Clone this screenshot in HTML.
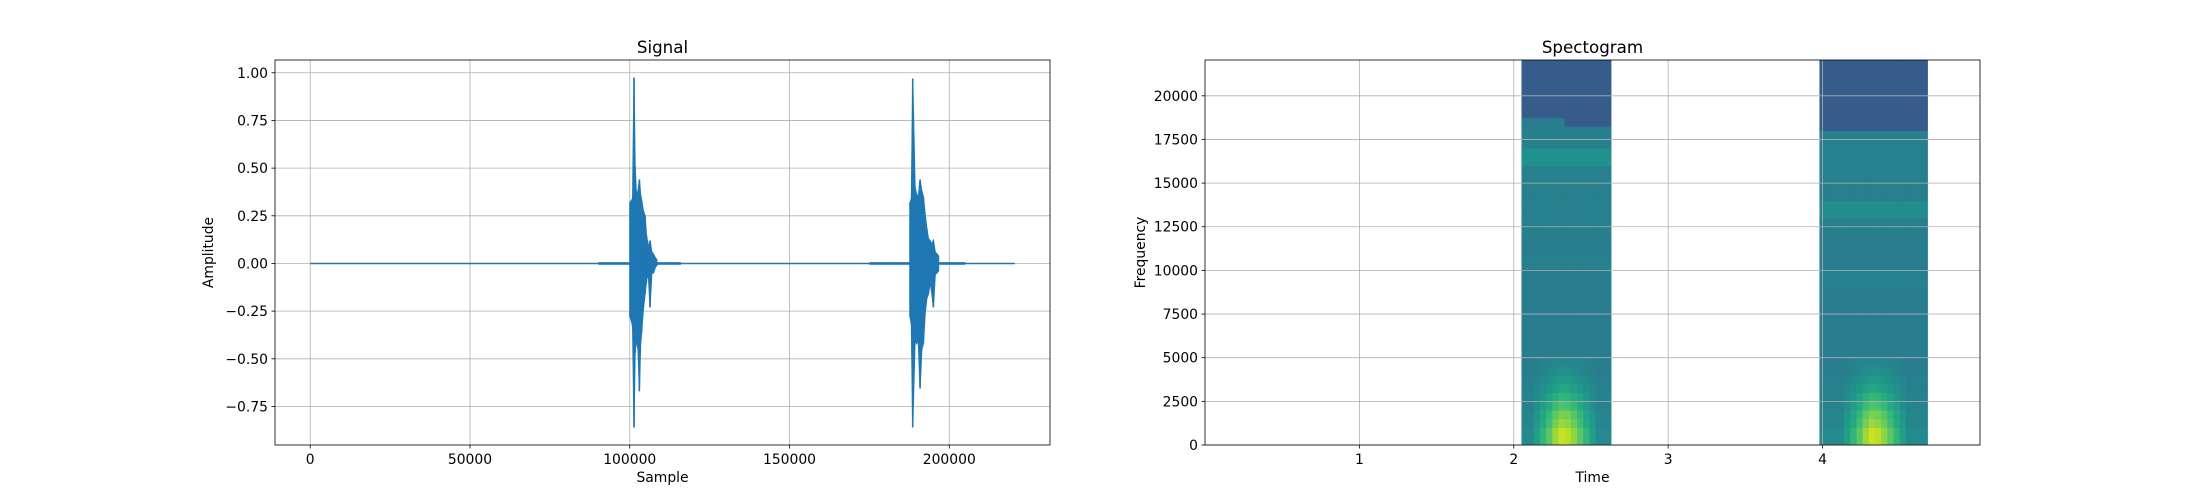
<!DOCTYPE html>
<html><head><meta charset="utf-8"><style>
html,body{margin:0;padding:0;background:#fff}
svg{display:block;font-family:"DejaVu Sans","Liberation Sans",sans-serif}
</style></head><body>
<svg id="fig" width="2200" height="500" xmlns="http://www.w3.org/2000/svg">
<defs><clipPath id="specClip"><rect x="1205" y="60" width="775" height="385"/></clipPath></defs>
<g id="sigAx"></g>
<g id="specAx"></g>
</svg>
<script>
// ---------- Signal data ----------
const sigXTicks = [0, 50000, 100000, 150000, 200000];
const sigYTicks = [1.0, 0.75, 0.5, 0.25, 0.0, -0.25, -0.5, -0.75];
const sigYTickLabels = ["1.00","0.75","0.50","0.25","0.00","\u22120.25","\u22120.50","\u22120.75"];
const sigTotalSamples = 220500;
const noiseSegStart = [90200, 175000];
const noiseSegEnd = [116000, 205000];
const noiseSegAmp = [0.007, 0.007];
const burst1Samples = [100090, 100500, 100900, 101340, 101660, 102100, 102600, 103010, 103400, 103740, 104200, 104790, 105200, 105520, 105900, 106350, 106900, 107390, 108000, 108440];
const burst1Max = [0.32, 0.33, 0.34, 0.975, 0.51, 0.36, 0.38, 0.44, 0.36, 0.33, 0.28, 0.25, 0.15, 0.12, 0.08, 0.12, 0.06, 0.05, 0.03, 0.02];
const burst1Min = [-0.28, -0.30, -0.33, -0.86, -0.47, -0.40, -0.45, -0.67, -0.42, -0.36, -0.25, -0.16, -0.10, -0.05, -0.08, -0.23, -0.05, -0.05, -0.02, -0.01];
const burst2Samples = [187730, 188150, 188560, 189290, 189800, 190300, 190860, 191400, 191900, 192500, 193000, 193470, 194000, 194500, 195030, 195600, 196100, 196600];
const burst2Max = [0.32, 0.34, 0.97, 0.40, 0.36, 0.35, 0.44, 0.38, 0.35, 0.25, 0.18, 0.13, 0.12, 0.10, 0.12, 0.06, 0.05, 0.04];
const burst2Min = [-0.28, -0.32, -0.86, -0.40, -0.42, -0.40, -0.655, -0.45, -0.42, -0.25, -0.18, -0.16, -0.10, -0.15, -0.23, -0.06, -0.05, -0.04];

// ---------- Spectrogram data ----------
const specXTicks = [1, 2, 3, 4];
const specYTicks = [0, 2500, 5000, 7500, 10000, 12500, 15000, 17500, 20000];
const burstStart = [2.05, 3.98];
const burstEnd = [2.63, 4.68];
const burst1Base = [0.47,0.45,0.44,0.43,0.42,0.42,0.42,0.42,0.42,0.42,0.43,0.42,0.43,0.43,0.43,0.43,0.50,0.43,0.42,0.30,0.29,0.29,0.29];
const burst2Base = [0.47,0.45,0.44,0.43,0.42,0.42,0.42,0.42,0.42,0.43,0.42,0.42,0.43,0.48,0.43,0.43,0.43,0.43,0.30,0.29,0.29,0.29,0.29];
const cutLeft = [18800, 17930];
const cutRight = [18150, 17930];
const lowBoost = [0.45, 0.45, 0.40, 0.35, 0.28, 0.22, 0.16, 0.11, 0.07, 0.04];
const hotCenter = [2.33, 4.33];
const hotWeights = [0.2, 0.4, 0.6, 0.85, 1.0, 0.95, 0.8, 0.6, 0.4, 0.2];

const NS = "http://www.w3.org/2000/svg";
function mk(tag, attrs, parent, text){
  const e = document.createElementNS(NS, tag);
  for (const k in attrs) e.setAttribute(k, attrs[k]);
  if (text !== undefined) e.textContent = text;
  parent.appendChild(e);
  return e;
}
const FS = 13.9;

// ---------- Signal axes ----------
const L = {x0:275, x1:1050, y0:60, y1:445};
const sxMin = -sigTotalSamples*0.05, sxMax = sigTotalSamples*1.05;
const syMin = -0.952, syMax = 1.067;
const sx = v => L.x0 + (v - sxMin)/(sxMax - sxMin)*(L.x1 - L.x0);
const sy = v => L.y1 - (v - syMin)/(syMax - syMin)*(L.y1 - L.y0);
const sg = document.getElementById('sigAx');

sigXTicks.forEach((t,i)=>{
  const l = mk('line',{x1:sx(t),x2:sx(t),y1:L.y0,y2:L.y1,stroke:'#b0b0b0','stroke-width':0.8},sg);
  
  
  const tk = mk('line',{x1:sx(t),x2:sx(t),y1:L.y1,y2:L.y1+3.5,stroke:'#000','stroke-width':0.8},sg);
  
  
  const tx = mk('text',{x:sx(t),y:L.y1+19,'font-size':FS,'text-anchor':'middle'},sg,String(t));
  
  
});
sigYTicks.forEach((t,i)=>{
  const l = mk('line',{x1:L.x0,x2:L.x1,y1:sy(t),y2:sy(t),stroke:'#b0b0b0','stroke-width':0.8},sg);
  
  
  const tk = mk('line',{x1:L.x0-3.5,x2:L.x0,y1:sy(t),y2:sy(t),stroke:'#000','stroke-width':0.8},sg);
  
  
  const tx = mk('text',{x:L.x0-7,y:sy(t)+5,'font-size':FS,'text-anchor':'end'},sg,sigYTickLabels[i]);
  
  
});
const blue = '#1f77b4';
const base = mk('line',{x1:sx(0),x2:sx(sigTotalSamples),y1:sy(0),y2:sy(0),stroke:blue,'stroke-width':1.5},sg);


noiseSegStart.forEach((s,i)=>{
  const r = mk('rect',{x:sx(s),y:sy(noiseSegAmp[i]),width:sx(noiseSegEnd[i])-sx(s),height:sy(-noiseSegAmp[i])-sy(noiseSegAmp[i]),fill:blue},sg);
  
  
});
function drawBurst(samps, mx, mn, name){
  let pts = samps.map((s,i)=>sx(s)+','+sy(mx[i]));
  for (let i=samps.length-1;i>=0;i--) pts.push(sx(samps[i])+','+sy(mn[i]));
  const p = mk('polygon',{points:pts.join(' '),fill:blue,stroke:blue,'stroke-width':1.2},sg);
  
  
  samps.forEach((s,i)=>{
    const l = mk('line',{x1:sx(s),x2:sx(s),y1:sy(mx[i]),y2:sy(mn[i]),stroke:blue,'stroke-width':1.6},sg);
    
    
  });
}
drawBurst(burst1Samples, burst1Max, burst1Min, 'burst-1');
drawBurst(burst2Samples, burst2Max, burst2Min, 'burst-2');
const sf = mk('rect',{x:L.x0,y:L.y0,width:L.x1-L.x0,height:L.y1-L.y0,fill:'none',stroke:'#000','stroke-width':0.8},sg);


const st = mk('text',{x:(L.x0+L.x1)/2,y:L.y0-7,'font-size':16.7,'text-anchor':'middle'},sg,'Signal');


const sxl = mk('text',{x:(L.x0+L.x1)/2,y:L.y1+37,'font-size':FS,'text-anchor':'middle'},sg,'Sample');


const syl = mk('text',{x:0,y:0,'font-size':FS,'text-anchor':'middle',transform:`translate(213,${(L.y0+L.y1)/2}) rotate(-90)`},sg,'Amplitude');



// ---------- Spectrogram axes ----------
const R = {x0:1205, x1:1980, y0:60, y1:445};
const txMax = 5.02, fMax = 22050;
const tx = v => R.x0 + v/txMax*(R.x1-R.x0);
const fy = v => R.y1 - v/fMax*(R.y1-R.y0);
const pg = document.getElementById('specAx');
const stops = [[0,'#440154'],[0.1,'#482475'],[0.2,'#414487'],[0.3,'#355f8d'],[0.4,'#2a788e'],[0.5,'#21918c'],[0.6,'#22a884'],[0.7,'#44bf70'],[0.8,'#7ad151'],[0.9,'#bddf26'],[1,'#fde725']];
function hex(h){return [1,3,5].map(i=>parseInt(h.substr(i,2),16));}
function viridis(v){
  v=Math.max(0,Math.min(1,v));
  for(let i=1;i<stops.length;i++){ if(v<=stops[i][0]){
    const a=stops[i-1],b=stops[i],f=(v-a[0])/(b[0]-a[0]);
    const ca=hex(a[1]),cb=hex(b[1]);
    return 'rgb('+ca.map((c,k)=>Math.round(c+(cb[k]-c)*f)).join(',')+')';
  }}
  return stops[stops.length-1][1];
}
const cellT = 0.02, cellF = 250;
const hotHalf = 0.2;
const specCells = mk('g',{'clip-path':'url(#specClip)'},pg);


[burst1Base, burst2Base].forEach((baseArr, b)=>{
  const g = mk('g',{},specCells);
  
  
  for (let t=burstStart[b]; t<burstEnd[b]-1e-9; t+=cellT){
    const tc = t+cellT/2;
    const cut = tc < hotCenter[b] ? cutLeft[b] : cutRight[b];
    let hw = 0;
    const rel = (tc-(hotCenter[b]-hotHalf))/(2*hotHalf);
    if (rel>=0 && rel<1) hw = hotWeights[Math.floor(rel*hotWeights.length)];
    for (let f=0; f<fMax; f+=cellF){
      const fc = f+cellF/2;
      let v = fc > cut ? 0.29 : baseArr[Math.min(baseArr.length-1, Math.floor(fc/1000))];
      const lb = Math.floor(fc/500);
      if (lb < lowBoost.length) v += lowBoost[lb]*hw;
      const c = mk('rect',{x:tx(t),y:fy(f+cellF),width:tx(t+cellT)-tx(t)+0.4,height:fy(f)-fy(f+cellF)+0.4,fill:viridis(v)},g);
      
      
    }
  }
});
specXTicks.forEach(t=>{
  const l = mk('line',{x1:tx(t),x2:tx(t),y1:R.y0,y2:R.y1,stroke:'#b0b0b0','stroke-width':0.8},pg);
  
  
  const tk = mk('line',{x1:tx(t),x2:tx(t),y1:R.y1,y2:R.y1+3.5,stroke:'#000','stroke-width':0.8},pg);
  
  
  const te = mk('text',{x:tx(t),y:R.y1+19,'font-size':FS,'text-anchor':'middle'},pg,String(t));
  
  
});
specYTicks.forEach(t=>{
  const l = mk('line',{x1:R.x0,x2:R.x1,y1:fy(t),y2:fy(t),stroke:'#b0b0b0','stroke-width':0.8},pg);
  
  
  const tk = mk('line',{x1:R.x0-3.5,x2:R.x0,y1:fy(t),y2:fy(t),stroke:'#000','stroke-width':0.8},pg);
  
  
  const te = mk('text',{x:R.x0-7,y:fy(t)+5,'font-size':FS,'text-anchor':'end'},pg,String(t));
  
  
});
const pf = mk('rect',{x:R.x0,y:R.y0,width:R.x1-R.x0,height:R.y1-R.y0,fill:'none',stroke:'#000','stroke-width':0.8},pg);


const pt = mk('text',{x:(R.x0+R.x1)/2,y:R.y0-7,'font-size':16.7,'text-anchor':'middle'},pg,'Spectogram');


const pxl = mk('text',{x:(R.x0+R.x1)/2,y:R.y1+37,'font-size':FS,'text-anchor':'middle'},pg,'Time');


const pyl = mk('text',{x:0,y:0,'font-size':FS,'text-anchor':'middle',transform:`translate(1145,${(R.y0+R.y1)/2}) rotate(-90)`},pg,'Frequency');


</script>
</body></html>
